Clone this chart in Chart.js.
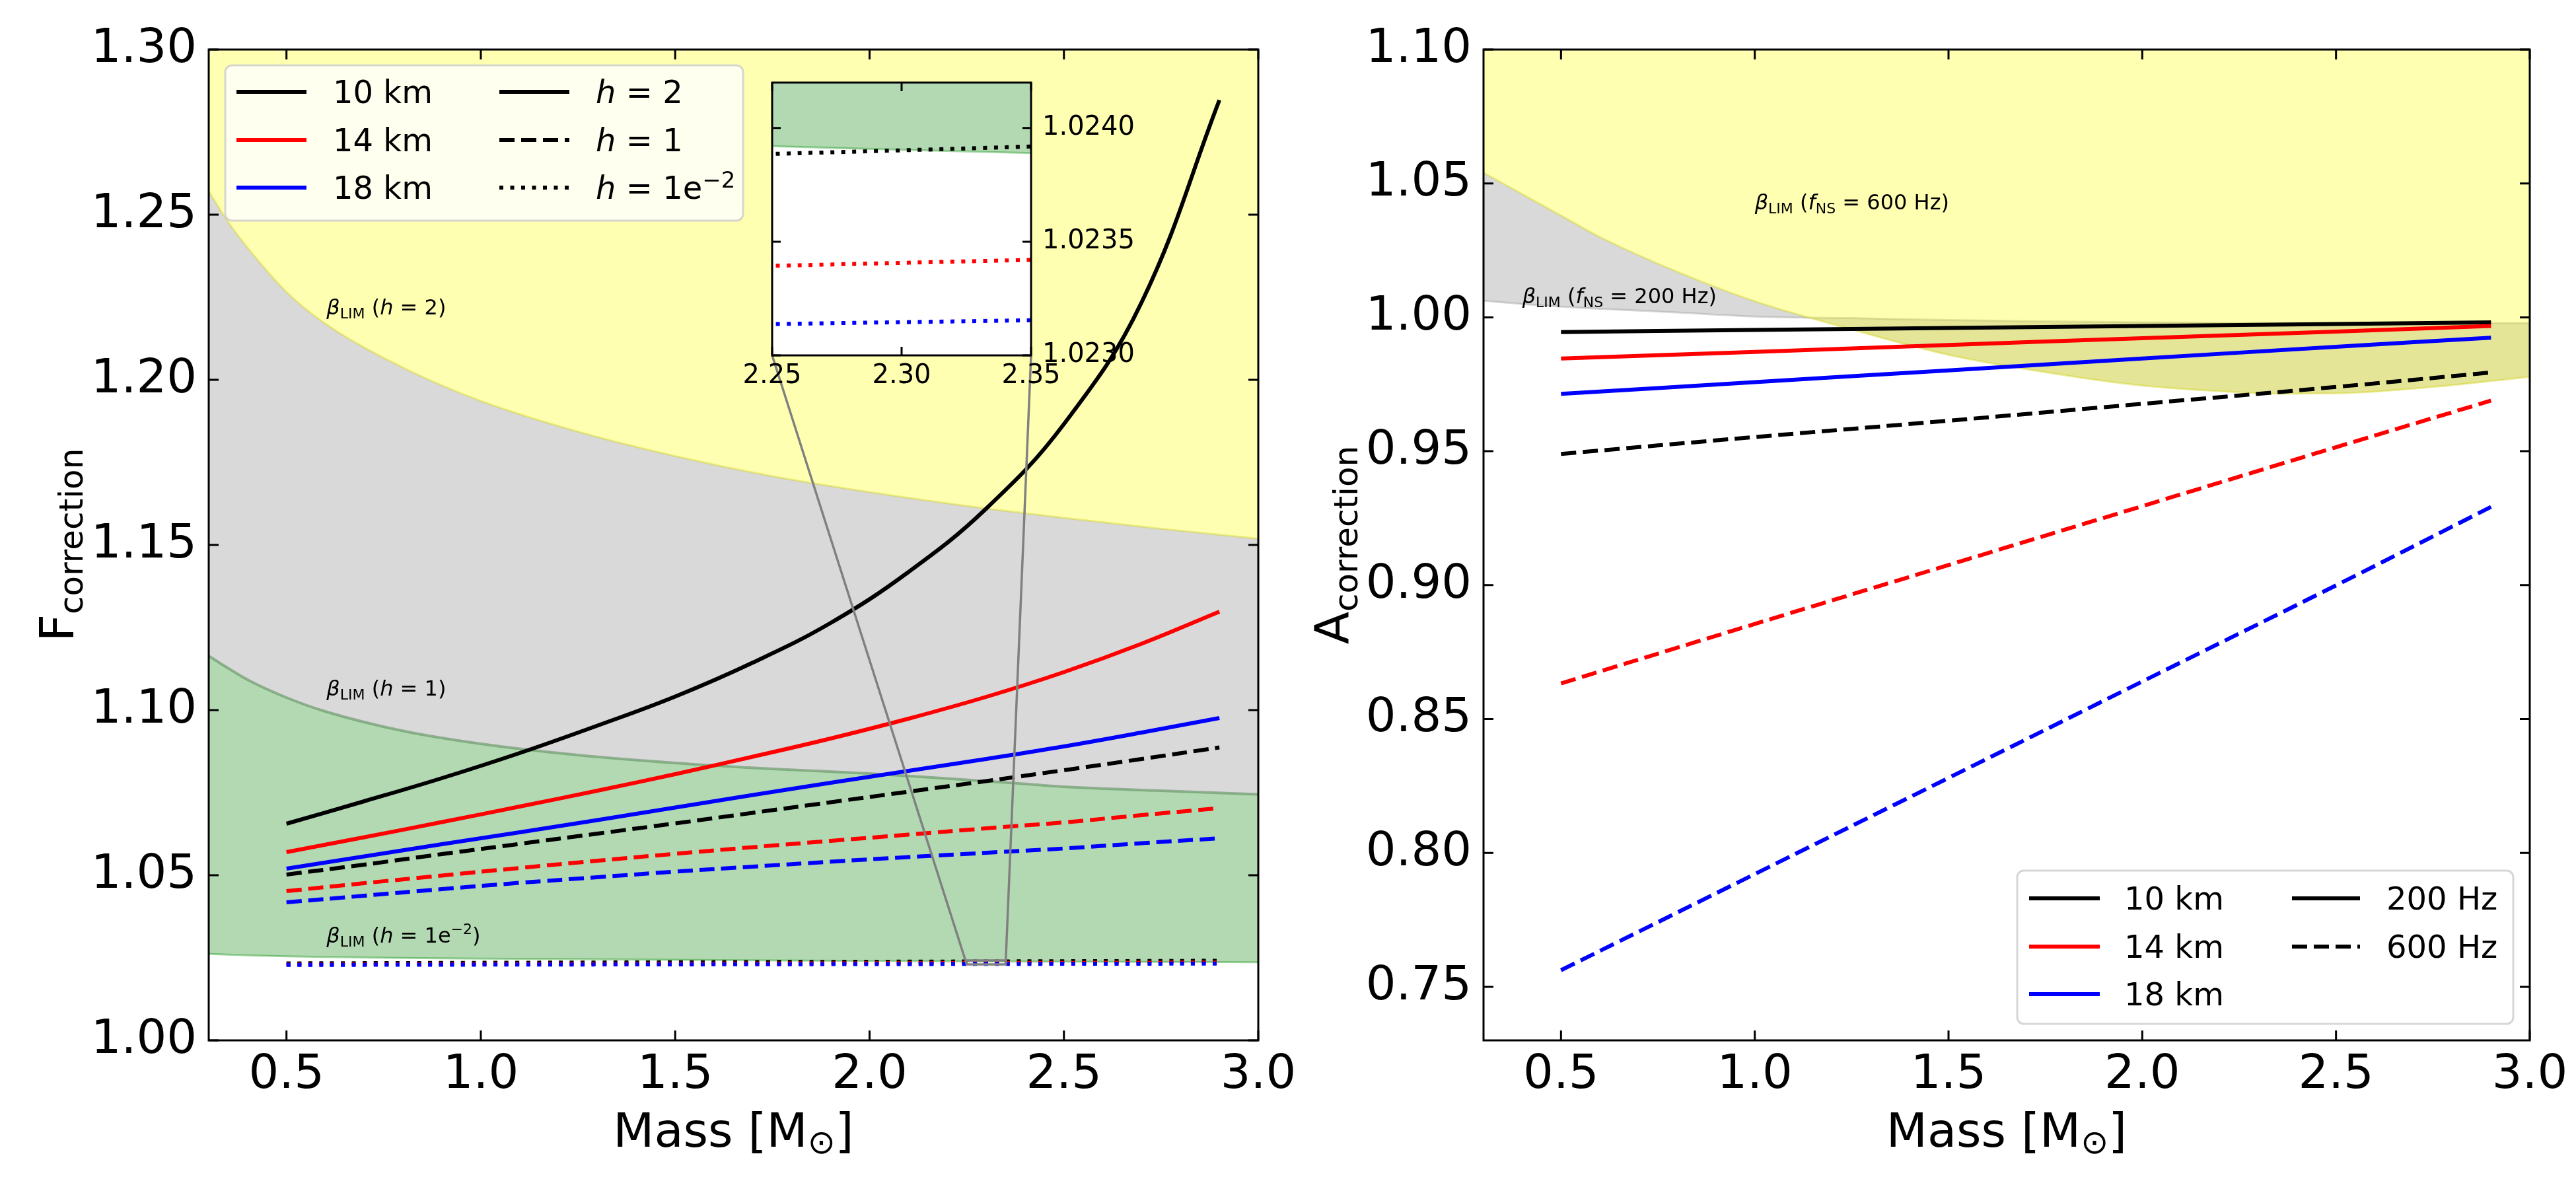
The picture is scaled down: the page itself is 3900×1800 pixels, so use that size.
<!DOCTYPE html>
<html>
<head>
<meta charset="utf-8">
<script src="https://cdn.jsdelivr.net/npm/chart.js@4.4.1/dist/chart.umd.min.js"></script>
<style>
  html, body { margin: 0; padding: 0; background: #fff; }
  #wrap { position: relative; width: 3900px; height: 1800px; overflow: hidden; }
  canvas { position: absolute; }
</style>
</head>
<body>
<div id="wrap">
  <canvas id="left" width="2000" height="1800" style="left:0;top:0"></canvas>
  <canvas id="right" width="1940" height="1800" style="left:1960px;top:0"></canvas>
  <canvas id="inset" width="700" height="560" style="left:1100px;top:80px"></canvas>
</div>
<script>
// mass grids [M_sun]
const massLeft = [0.5, 0.7, 0.9, 1.1, 1.3, 1.5, 1.7, 1.9, 2.1, 2.3, 2.5, 2.7, 2.9];
const massRight = [0.5, 1.0, 1.5, 2.0, 2.5, 2.9];
const massLim = [0.3, 0.35, 0.4, 0.5, 0.6, 0.8, 1.0, 1.25, 1.5, 1.75, 2.0, 2.25, 2.35, 2.5, 2.75, 3.0];

// F_correction, radius 10/14/18 km, h = 2, 1, 1e-2
const f10h2 = [1.0656, 1.0724, 1.0794, 1.0870, 1.0953, 1.1041, 1.1144, 1.1264, 1.1418, 1.1610, 1.1866, 1.2235, 1.2847];
const f14h2 = [1.0570, 1.0615, 1.0661, 1.0708, 1.0756, 1.0806, 1.0859, 1.0914, 1.0974, 1.1040, 1.1115, 1.1201, 1.1298];
const f18h2 = [1.0520, 1.0557, 1.0594, 1.0630, 1.0667, 1.0705, 1.0743, 1.0780, 1.0816, 1.0852, 1.0890, 1.0932, 1.0976];
const f10h1 = [1.0502, 1.0532, 1.0564, 1.0595, 1.0626, 1.0657, 1.0689, 1.0721, 1.0753, 1.0785, 1.0818, 1.0852, 1.0887];
const f14h1 = [1.0452, 1.0476, 1.0499, 1.0522, 1.0544, 1.0565, 1.0585, 1.0604, 1.0623, 1.0642, 1.0660, 1.0682, 1.0703];
const f18h1 = [1.0418, 1.0438, 1.0458, 1.0477, 1.0494, 1.0511, 1.0526, 1.0541, 1.0555, 1.0568, 1.0581, 1.0597, 1.0612];
const f10h001 = [1.02331, 1.02338, 1.02344, 1.02351, 1.02357, 1.02364, 1.02371, 1.02377, 1.02384, 1.023902, 1.02397, 1.02403, 1.02410];
const f14h001 = [1.022939, 1.022991, 1.023043, 1.023095, 1.023147, 1.023199, 1.023251, 1.023303, 1.023355, 1.023407, 1.023459, 1.023511, 1.023563];
const f18h001 = [1.022840, 1.022874, 1.022908, 1.022942, 1.022976, 1.023010, 1.023044, 1.023078, 1.023112, 1.023146, 1.023180, 1.023214, 1.023248];

// beta_LIM limits, left panel
const limH2 = [1.2571, 1.2478, 1.2400, 1.2266, 1.2170, 1.2037, 1.1936, 1.1843, 1.1769, 1.1708, 1.1660, 1.1618, 1.1603, 1.1582, 1.1549, 1.1519];
const limH1 = [1.1164, 1.1127, 1.1092, 1.1038, 1.0996, 1.0937, 1.0898, 1.0864, 1.0840, 1.0822, 1.0808, 1.0789, 1.0781, 1.0768, 1.0756, 1.0745];
const limH001 = [1.02620, 1.02595, 1.02575, 1.02545, 1.02525, 1.02497, 1.02476, 1.02458, 1.02440, 1.02420, 1.02404, 1.02392, 1.02389, 1.02383, 1.02374, 1.02366];

// A_correction, f_NS = 200 / 600 Hz
const a10f200 = [0.9945, 0.9953, 0.9960, 0.9968, 0.9975, 0.9981];
const a14f200 = [0.9846, 0.9871, 0.9897, 0.9922, 0.9947, 0.9968];
const a18f200 = [0.9714, 0.9758, 0.9802, 0.9846, 0.9890, 0.9924];
const a10f600 = [0.9490, 0.9553, 0.9614, 0.9677, 0.9740, 0.9794];
const a14f600 = [0.8633, 0.8855, 0.9075, 0.9295, 0.9515, 0.9689];
const a18f600 = [0.7562, 0.7921, 0.8280, 0.8640, 0.8999, 0.9292];

// beta_LIM limits, right panel
const lim600 = [1.0540, 1.0500, 1.0460, 1.0380, 1.0300, 1.0170, 1.0060, 0.9955, 0.9860, 0.9795, 0.9745, 0.9720, 0.9715, 0.9716, 0.9740, 0.9778];
const lim200 = [1.0062, 1.0056, 1.0050, 1.0040, 1.0032, 1.0018, 1.0003, 0.9997, 0.9990, 0.9985, 0.9981, 0.9979, 0.9978, 0.9978, 0.9978, 0.9978];

// ticks
const massTicks = [0.5, 1.0, 1.5, 2.0, 2.5, 3.0];
const fTicks = [1.00, 1.05, 1.10, 1.15, 1.20, 1.25, 1.30];
const aTicks = [0.75, 0.80, 0.85, 0.90, 0.95, 1.00, 1.05, 1.10];
const insetMassTicks = [2.25, 2.30, 2.35];
const insetFTicks = [1.0230, 1.0235, 1.0240];

const FONT = '"DejaVu Sans", sans-serif';
Chart.defaults.font.family = FONT;
Chart.defaults.color = '#000';

const DASH = { solid: [], dashed: [23, 10], dotted: [6, 10.5] };
const INSET_AREA = { left: 1169, top: 125, right: 1561, bottom: 538 };

function pts(xs, ys) {
    return xs.map((x, i) => ({ x: x, y: ys[i] }));
}

// later curves get a lower order so they end up on top, like matplotlib
let curveOrder = 40;
function curve(xs, ys, color, style) {
    return {
        data: pts(xs, ys), borderColor: color, borderWidth: 6, borderDash: DASH[style],
        pointRadius: 0, fill: false, tension: 0.4, clip: 0, order: curveOrder--
    };
}

function band(xs, ys, fill, bg, edge, edgeW) {
    return {
        data: pts(xs, ys), fill: fill, backgroundColor: bg, borderColor: edge, borderWidth: edgeW,
        pointRadius: 0, cubicInterpolationMode: 'monotone', clip: 0, order: 50
    };
}

function leftSets() {
    curveOrder = 40;
    return [
        band(massLim, limH2, 'end', 'rgba(255,255,0,0.3)', 'rgba(205,205,0,0.35)', 3),
        band(massLim, limH1, '-1', 'rgba(128,128,128,0.3)', 'rgba(60,120,60,0.45)', 4),
        band(massLim, limH001, '-1', 'rgba(0,128,0,0.3)', 'rgba(0,140,0,0.35)', 3),
        curve(massLeft, f10h2, '#000000', 'solid'),
        curve(massLeft, f14h2, '#ff0000', 'solid'),
        curve(massLeft, f18h2, '#0000ff', 'solid'),
        curve(massLeft, f10h1, '#000000', 'dashed'),
        curve(massLeft, f14h1, '#ff0000', 'dashed'),
        curve(massLeft, f18h1, '#0000ff', 'dashed'),
        curve(massLeft, f10h001, '#000000', 'dotted'),
        curve(massLeft, f14h001, '#ff0000', 'dotted'),
        curve(massLeft, f18h001, '#0000ff', 'dotted')
    ];
}

function rightSets() {
    curveOrder = 40;
    return [
        band(massLim, lim600, 'end', 'rgba(255,255,0,0.3)', 'rgba(205,205,0,0.35)', 3),
        band(massLim, lim200, '-1', 'rgba(128,128,128,0.3)', 'rgba(128,128,128,0.3)', 3),
        curve(massRight, a10f200, '#000000', 'solid'),
        curve(massRight, a14f200, '#ff0000', 'solid'),
        curve(massRight, a18f200, '#0000ff', 'solid'),
        curve(massRight, a10f600, '#000000', 'dashed'),
        curve(massRight, a14f600, '#ff0000', 'dashed'),
        curve(massRight, a18f600, '#0000ff', 'dashed')
    ];
}

// text made of pieces (italic, sub/superscripts)
function drawParts(ctx, parts, x, y, align) {
    let total = 0;
    const sized = parts.map(p => {
        ctx.font = (p.i ? 'italic ' : '') + p.s + 'px ' + FONT;
        const w = ctx.measureText(p.t).width;
        total += w;
        return Object.assign({ w: w }, p);
    });
    let cx = align === 'center' ? x - total / 2 : x;
    ctx.textAlign = 'left';
    ctx.textBaseline = 'alphabetic';
    sized.forEach(p => {
        ctx.font = (p.i ? 'italic ' : '') + p.s + 'px ' + FONT;
        ctx.fillText(p.t, cx, y + (p.dy || 0));
        cx += p.w;
    });
}

function betaLabel(tail, size) {
    const sub = Math.round(size * 0.7);
    return [{ t: 'β', s: size, i: 1 }, { t: 'LIM', s: sub, dy: 6 }, { t: ' (', s: size }].concat(tail);
}

// inward ticks on all sides plus the box
const framePlugin = {
    id: 'frame',
    afterDatasetsDraw(chart, args, opts) {
        const { ctx, chartArea: a } = chart;
        const x = chart.scales.x, y = chart.scales.y;
        const L = opts.tick;
        ctx.save();
        ctx.strokeStyle = '#000';
        ctx.lineWidth = opts.width;
        ctx.beginPath();
        x.ticks.forEach(t => {
            const p = x.getPixelForValue(t.value);
            ctx.moveTo(p, a.bottom); ctx.lineTo(p, a.bottom - L);
            ctx.moveTo(p, a.top); ctx.lineTo(p, a.top + L);
        });
        y.ticks.forEach(t => {
            const p = y.getPixelForValue(t.value);
            ctx.moveTo(a.left, p); ctx.lineTo(a.left + L, p);
            ctx.moveTo(a.right, p); ctx.lineTo(a.right - L, p);
        });
        ctx.stroke();
        ctx.strokeRect(a.left, a.top, a.right - a.left, a.bottom - a.top);
        ctx.restore();
    }
};

const zoomMarkPlugin = {
    id: 'zoomMark',
    afterDatasetsDraw(chart, args, o) {
        const { ctx } = chart;
        const x = chart.scales.x, y = chart.scales.y;
        const xl = x.getPixelForValue(o.x[0]), xr = x.getPixelForValue(o.x[1]);
        const yb = y.getPixelForValue(o.y[0]), yt = y.getPixelForValue(o.y[1]);
        ctx.save();
        ctx.strokeStyle = '#808080';
        ctx.lineWidth = 3.5;
        ctx.strokeRect(xl, yt, xr - xl, yb - yt);
        ctx.beginPath();
        ctx.moveTo(o.box.left, o.box.bottom); ctx.lineTo(xl, yb);
        ctx.moveTo(o.box.right, o.box.bottom); ctx.lineTo(xr, yb);
        ctx.stroke();
        ctx.restore();
    }
};

const notesPlugin = {
    id: 'notes',
    afterDatasetsDraw(chart, args, o) {
        const { ctx } = chart;
        const x = chart.scales.x, y = chart.scales.y;
        ctx.save();
        ctx.fillStyle = '#000';
        o.items.forEach(n => drawParts(ctx, n.parts, x.getPixelForValue(n.m), y.getPixelForValue(n.v), 'left'));
        ctx.restore();
    }
};

function roundBox(ctx, x, y, w, h, r) {
    ctx.beginPath();
    ctx.moveTo(x + r, y);
    ctx.arcTo(x + w, y, x + w, y + h, r);
    ctx.arcTo(x + w, y + h, x, y + h, r);
    ctx.arcTo(x, y + h, x, y, r);
    ctx.arcTo(x, y, x + w, y, r);
    ctx.closePath();
}

const keyPlugin = {
    id: 'key',
    afterDatasetsDraw(chart, args, o) {
        const { ctx } = chart;
        const [x0, y0, x1, y1] = o.box;
        ctx.save();
        roundBox(ctx, x0, y0, x1 - x0, y1 - y0, 10);
        ctx.fillStyle = 'rgba(255,255,255,0.8)';
        ctx.fill();
        ctx.strokeStyle = 'rgba(204,204,204,0.8)';
        ctx.lineWidth = 3;
        ctx.stroke();
        o.cols.forEach(col => col.items.forEach((it, r) => {
            const yy = o.rows[r];
            ctx.strokeStyle = it.color;
            ctx.lineWidth = 6;
            ctx.setLineDash(DASH[it.style]);
            ctx.beginPath();
            ctx.moveTo(col.line[0], yy);
            ctx.lineTo(col.line[1], yy);
            ctx.stroke();
            ctx.setLineDash([]);
            ctx.fillStyle = '#000';
            drawParts(ctx, it.parts, col.text, yy + 17, 'left');
        }));
        ctx.restore();
    }
};

const titlePlugin = {
    id: 'titles',
    afterDraw(chart, args, o) {
        const { ctx, chartArea: a } = chart;
        ctx.save();
        ctx.fillStyle = '#000';
        drawParts(ctx, o.x, (a.left + a.right) / 2, a.bottom + 161, 'center');
        ctx.translate(a.left - 205, (a.top + a.bottom) / 2);
        ctx.rotate(-Math.PI / 2);
        drawParts(ctx, o.y, 0, 0, 'center');
        ctx.restore();
    }
};

const whiteAreaPlugin = {
    id: 'whiteArea',
    beforeDraw(chart) {
        const { ctx, chartArea: a } = chart;
        ctx.save();
        ctx.fillStyle = '#fff';
        ctx.fillRect(a.left, a.top, a.right - a.left, a.bottom - a.top);
        ctx.restore();
    }
};

function axis(min, max, ticks, digits, opts) {
    return Object.assign({
        type: 'linear', min: min, max: max,
        afterBuildTicks: s => { s.ticks = ticks.map(v => ({ value: v })); },
        grid: { display: false, drawTicks: false, tickLength: 0 },
        border: { display: false },
        ticks: {
            autoSkip: false, maxRotation: 0, minRotation: 0, color: '#000',
            padding: opts.pad, font: { size: opts.size },
            callback: v => Number(v).toFixed(digits)
        }
    }, opts.extra);
}

const xTitle = [{ t: 'Mass [M', s: 72 }, { t: '⊙', s: 50, dy: 10 }, { t: ']', s: 72 }];
const hPart = (rest, size) => [{ t: 'h', s: size, i: 1 }].concat(rest);

// left panel
new Chart(document.getElementById('left').getContext('2d'), {
    type: 'line',
    data: { datasets: leftSets() },
    options: {
        responsive: false, animation: false, devicePixelRatio: 1,
        layout: { padding: { left: 0, top: 75, right: 95, bottom: 0 } },
        scales: {
            x: axis(0.3, 3.0, massTicks, 1, { pad: 10, size: 72, extra: { afterFit: s => { s.height = 225; } } }),
            y: axis(1.0, 1.3, fTicks, 2, { pad: 18, size: 72, extra: { afterFit: s => { s.width = 316; } } })
        },
        plugins: {
            legend: { display: false }, tooltip: { enabled: false },
            frame: { tick: 15, width: 3 },
            zoomMark: { x: [2.25, 2.35], y: [1.0230, 1.0242], box: INSET_AREA },
            notes: {
                items: [
                    { m: 0.603, v: 1.2199, parts: betaLabel(hPart([{ t: ' = 2)', s: 32 }], 32), 32) },
                    { m: 0.603, v: 1.1045, parts: betaLabel(hPart([{ t: ' = 1)', s: 32 }], 32), 32) },
                    { m: 0.603, v: 1.0297, parts: betaLabel(hPart([{ t: ' = 1e', s: 32 }, { t: '−2', s: 22, dy: -13 }, { t: ')', s: 32 }], 32), 32) }
                ]
            },
            key: {
                box: [341, 99, 1125, 334],
                rows: [139, 212, 284],
                cols: [
                    { line: [358, 464], text: 504, items: [
                        { color: '#000000', style: 'solid', parts: [{ t: '10 km', s: 48 }] },
                        { color: '#ff0000', style: 'solid', parts: [{ t: '14 km', s: 48 }] },
                        { color: '#0000ff', style: 'solid', parts: [{ t: '18 km', s: 48 }] }
                    ] },
                    { line: [756, 862], text: 902, items: [
                        { color: '#000000', style: 'solid', parts: hPart([{ t: ' = 2', s: 48 }], 48) },
                        { color: '#000000', style: 'dashed', parts: hPart([{ t: ' = 1', s: 48 }], 48) },
                        { color: '#000000', style: 'dotted', parts: hPart([{ t: ' = 1e', s: 48 }, { t: '−2', s: 34, dy: -17 }], 48) }
                    ] }
                ]
            },
            titles: { x: xTitle, y: [{ t: 'F', s: 72 }, { t: 'correction', s: 50, dy: 14 }] }
        }
    },
    plugins: [framePlugin, zoomMarkPlugin, notesPlugin, keyPlugin, titlePlugin]
});

// right panel
new Chart(document.getElementById('right').getContext('2d'), {
    type: 'line',
    data: { datasets: rightSets() },
    options: {
        responsive: false, animation: false, devicePixelRatio: 1,
        layout: { padding: { left: 0, top: 75, right: 70, bottom: 0 } },
        scales: {
            x: axis(0.3, 3.0, massTicks, 1, { pad: 10, size: 72, extra: { afterFit: s => { s.height = 225; } } }),
            y: axis(0.73, 1.10, aTicks, 2, { pad: 18, size: 72, extra: { afterFit: s => { s.width = 286; } } })
        },
        plugins: {
            legend: { display: false }, tooltip: { enabled: false },
            frame: { tick: 15, width: 3 },
            notes: {
                items: [
                    { m: 1.0, v: 1.0402, parts: betaLabel([{ t: 'f', s: 32, i: 1 }, { t: 'NS', s: 22, dy: 6 }, { t: ' = 600 Hz)', s: 32 }], 32) },
                    { m: 0.40, v: 1.0054, parts: betaLabel([{ t: 'f', s: 32, i: 1 }, { t: 'NS', s: 22, dy: 6 }, { t: ' = 200 Hz)', s: 32 }], 32) }
                ]
            },
            key: {
                box: [1094, 1318, 1845, 1550],
                rows: [1360, 1433, 1505],
                cols: [
                    { line: [1112, 1219], text: 1256, items: [
                        { color: '#000000', style: 'solid', parts: [{ t: '10 km', s: 48 }] },
                        { color: '#ff0000', style: 'solid', parts: [{ t: '14 km', s: 48 }] },
                        { color: '#0000ff', style: 'solid', parts: [{ t: '18 km', s: 48 }] }
                    ] },
                    { line: [1510, 1613], text: 1653, items: [
                        { color: '#000000', style: 'solid', parts: [{ t: '200 Hz', s: 48 }] },
                        { color: '#000000', style: 'dashed', parts: [{ t: '600 Hz', s: 48 }] }
                    ] }
                ]
            },
            titles: { x: xTitle, y: [{ t: 'A', s: 72 }, { t: 'correction', s: 50, dy: 14 }] }
        }
    },
    plugins: [framePlugin, notesPlugin, keyPlugin, titlePlugin]
});

// zoomed inset of the h = 1e-2 curves
new Chart(document.getElementById('inset').getContext('2d'), {
    type: 'line',
    data: { datasets: leftSets() },
    options: {
        responsive: false, animation: false, devicePixelRatio: 1,
        layout: { padding: { left: 69, top: 45, right: 0, bottom: 0 } },
        scales: {
            x: axis(2.25, 2.35, insetMassTicks, 2, { pad: 8, size: 40, extra: { afterFit: s => { s.height = 102; } } }),
            y: axis(1.0230, 1.0242, insetFTicks, 4, { pad: 17, size: 40, extra: { position: 'right', afterFit: s => { s.width = 239; } } })
        },
        plugins: {
            legend: { display: false }, tooltip: { enabled: false },
            frame: { tick: 13, width: 3 }
        }
    },
    plugins: [whiteAreaPlugin, framePlugin]
});
</script>
</body>
</html>
